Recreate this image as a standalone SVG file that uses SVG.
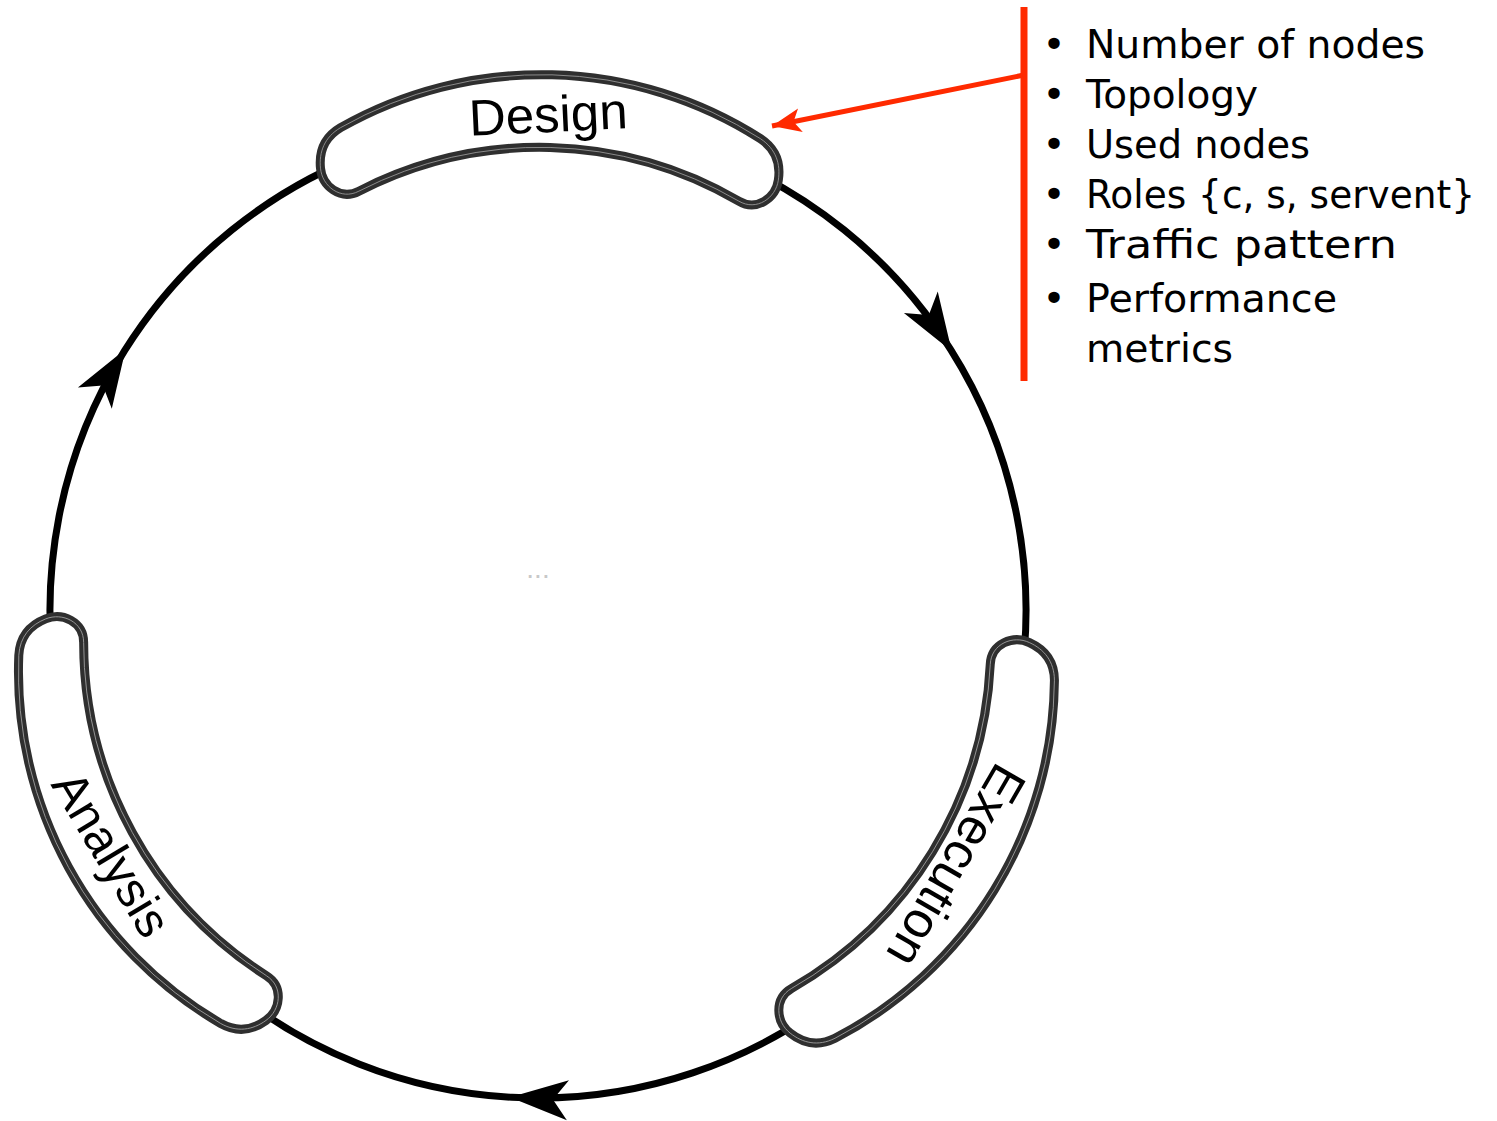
<svg xmlns="http://www.w3.org/2000/svg" xmlns:xlink="http://www.w3.org/1999/xlink" width="1497" height="1121" viewBox="0 0 1497 1121">
<style>
.ring{fill:none;stroke:#000;stroke-width:7;marker-mid:url(#blackArrow)}
.band-outer{fill:#fff;stroke:#2f2f2f;stroke-width:9}
.band-inner{fill:none;stroke:#a0a0a0;stroke-width:0.8}
.label{font-family:"Liberation Sans",Arial,sans-serif;font-size:51px;fill:#000;text-anchor:middle}
.item{font-family:"DejaVu Sans","Noto Sans",sans-serif;font-size:39px;fill:#000}
.bullet{font-family:"DejaVu Sans","Noto Sans",sans-serif;font-size:39px;fill:#000;text-anchor:middle}
.red{stroke:#ff2a00;fill:none}
</style>
<defs>
<marker id="blackArrow" markerUnits="userSpaceOnUse" viewBox="-60 -24 64 48" markerWidth="64" markerHeight="48" refX="0" refY="0" orient="auto">
<path d="M2,0 L-56,-20 L-41,0 L-56,20 Z" fill="#000"/>
</marker>
<marker id="redArrow" markerUnits="userSpaceOnUse" viewBox="-32 -16 36 32" markerWidth="36" markerHeight="32" refX="0" refY="0" orient="auto">
<path d="M0,0 L-29,-12 L-22,0 L-29,12 Z" fill="#ff2a00"/>
</marker>
<path id="band" d="M 328,133 A 407 407 0 0 1 748,133 C 764,143 769,158 767,174 C 765,192 746,206 728,196 A 395 395 0 0 0 348,196 C 330,206 311,192 309,174 C 307,158 312,143 328,133 Z"/>
</defs>
<rect width="1497" height="1121" fill="#fff"/>
<g id="connectors">
<path class="ring" d="M 704.9,151.4 A 488 488 0 0 1 950.7,349.6 A 488 488 0 0 1 1018.6,694.7"/>
<path class="ring" d="M 851.7,983.8 A 488 488 0 0 1 512.0,1097.3 A 488 488 0 0 1 224.3,983.8"/>
<path class="ring" d="M 57.4,694.7 A 488 488 0 0 1 124.6,350.7 A 488 488 0 0 1 371.1,151.4"/>
<path class="red" stroke-width="5" d="M 1024,75 L 772,126" marker-end="url(#redArrow)"/>
</g>
<g id="design">
<g transform="rotate(1.5 538 610)">
<use xlink:href="#band" class="band-outer"/>
<use xlink:href="#band" class="band-inner"/>
</g>
<text class="label" x="549" y="132" transform="rotate(-2.7 549 132)">Design</text>
</g>
<g id="execution">
<g transform="rotate(121.5 538 610)">
<use xlink:href="#band" class="band-outer"/>
<use xlink:href="#band" class="band-inner"/>
</g>
<text class="label" transform="translate(955,865) rotate(120)" x="0" y="16">Execution</text>
</g>
<g id="analysis">
<g transform="rotate(241.25 538 610)">
<use xlink:href="#band" class="band-outer"/>
<use xlink:href="#band" class="band-inner"/>
</g>
<text class="label" transform="translate(110,855) rotate(59)" x="0" y="15" style="font-size:49px">Analysis</text>
</g>
<g id="center-mark">
<text x="538" y="578" font-family="Liberation Sans, Arial, sans-serif" font-size="28" fill="#c8c8c8" text-anchor="middle">...</text>
</g>
<g id="notes">
<line class="red" stroke-width="7" x1="1024" y1="7" x2="1024" y2="381"/>
<text class="bullet" x="1054" y="58">•</text>
<text class="item" x="1086" y="58" textLength="339" lengthAdjust="spacingAndGlyphs">Number of nodes</text>
<text class="bullet" x="1054" y="108">•</text>
<text class="item" x="1086" y="108" textLength="172" lengthAdjust="spacingAndGlyphs">Topology</text>
<text class="bullet" x="1054" y="158">•</text>
<text class="item" x="1086" y="158" textLength="224" lengthAdjust="spacingAndGlyphs">Used nodes</text>
<text class="bullet" x="1054" y="208">•</text>
<text class="item" x="1086" y="208" textLength="389" lengthAdjust="spacingAndGlyphs">Roles {c, s, servent}</text>
<text class="bullet" x="1054" y="258">•</text>
<text class="item" x="1086" y="258" textLength="311" lengthAdjust="spacingAndGlyphs">Traffic pattern</text>
<text class="bullet" x="1054" y="312">•</text>
<text class="item" x="1086" y="312" textLength="251" lengthAdjust="spacingAndGlyphs">Performance</text>
<text class="item" x="1086" y="362" textLength="147" lengthAdjust="spacingAndGlyphs">metrics</text>
</g>
</svg>
